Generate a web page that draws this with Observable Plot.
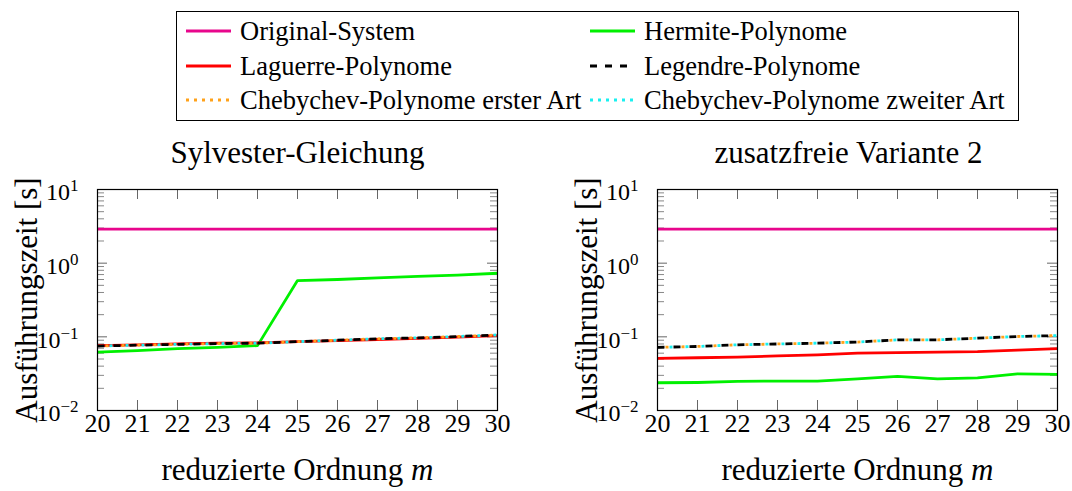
<!DOCTYPE html>
<html>
<head>
<meta charset="utf-8">
<script src="https://cdn.jsdelivr.net/npm/d3@7"></script>
<script src="https://cdn.jsdelivr.net/npm/@observablehq/plot@0.6"></script>
<style>
  body { margin: 0; background: #fff; }
  #root { position: relative; width: 1072px; height: 491px; font-family: "Liberation Serif", "Times New Roman", serif; color: #000; }
  .legend { position: absolute; left: 176px; top: 11px; width: 843px; height: 110px; border: 1px solid #000; box-sizing: border-box; }
  .item { position: absolute; height: 30px; display: flex; align-items: center; font-size: 26.5px; white-space: nowrap; }
  .item svg { margin-right: 9px; }
</style>
</head>
<body>
<div id="root"></div>
<script>
// reduced order m
const orders = [20, 21, 22, 23, 24, 25, 26, 27, 28, 29, 30];

// execution times [s], Sylvester equation
const sylvOriginal = [2.9, 2.9, 2.9, 2.9, 2.9, 2.9, 2.9, 2.9, 2.9, 2.9, 2.9];
const sylvHermite  = [0.062, 0.065, 0.069, 0.072, 0.076, 0.58, 0.60, 0.63, 0.66, 0.69, 0.73];
const sylvLaguerre = [0.076, 0.078, 0.080, 0.082, 0.083, 0.086, 0.089, 0.092, 0.095, 0.099, 0.104];
const sylvLegendre = [0.075, 0.077, 0.079, 0.081, 0.082, 0.086, 0.090, 0.094, 0.097, 0.101, 0.106];
const sylvCheb1    = [0.075, 0.077, 0.079, 0.081, 0.082, 0.086, 0.090, 0.094, 0.097, 0.101, 0.106];
const sylvCheb2    = [0.075, 0.077, 0.079, 0.081, 0.082, 0.086, 0.090, 0.094, 0.097, 0.101, 0.106];

// execution times [s], variant 2 without additional terms
const varOriginal = [2.9, 2.9, 2.9, 2.9, 2.9, 2.9, 2.9, 2.9, 2.9, 2.9, 2.9];
const varHermite  = [0.0238, 0.024, 0.0248, 0.0251, 0.0251, 0.0269, 0.029, 0.0269, 0.0277, 0.0315, 0.031];
const varLaguerre = [0.051, 0.052, 0.053, 0.055, 0.057, 0.060, 0.061, 0.062, 0.063, 0.066, 0.069];
const varLegendre = [0.072, 0.074, 0.078, 0.080, 0.082, 0.085, 0.091, 0.091, 0.096, 0.101, 0.104];
const varCheb1    = [0.072, 0.074, 0.078, 0.080, 0.082, 0.085, 0.091, 0.091, 0.096, 0.101, 0.104];
const varCheb2    = [0.072, 0.074, 0.078, 0.080, 0.082, 0.085, 0.091, 0.091, 0.096, 0.101, 0.104];

// series names and line styles (drawing order)
const seriesNames = [
  "Original-System", "Hermite-Polynome", "Laguerre-Polynome",
  "Legendre-Polynome", "Chebychev-Polynome erster Art", "Chebychev-Polynome zweiter Art"
];
const seriesColors = ["#e8068c", "#00f000", "#ff0000", "#000000", "#ffa21a", "#19f0f0"];
// dash patterns of the legend samples
const legendDash = [null, null, null, "7,8", "3,5", "3,5"];
// dash patterns in the plots, staggered so coinciding curves stay visible
const lineDash = [null, null, null, "7,9", "3,13", "3,13"];
const lineDashOffset = [0, 0, 0, 0, -8, -12];

// axis ticks
const decades = [0.01, 0.1, 1, 10];
const minorFactors = [2, 3, 4, 5, 6, 7, 8, 9];
const minorTicks = decades.slice(0, 3).flatMap(d => minorFactors.map(f => d * f));

const xTitle = "reduzierte Ordnung m";
const yTitle = "Ausführungszeit [s]";

const panels = [
  { title: "Sylvester-Gleichung", titleShift: 0, values: [sylvOriginal, sylvHermite, sylvLaguerre, sylvLegendre, sylvCheb1, sylvCheb2], left: 0, marginLeft: 97, marginRight: 39 },
  { title: "zusatzfreie Variante 2", titleShift: -9, values: [varOriginal, varHermite, varLaguerre, varLegendre, varCheb1, varCheb2], left: 536, marginLeft: 121, marginRight: 15 }
];

const W = 536, H = 361, MT = 59, MB = 81;
const root = document.getElementById("root");
const NS = "http://www.w3.org/2000/svg";

// legend
const legend = document.createElement("div");
legend.className = "legend";
const rowTops = [4, 39, 73];
const colLefts = [9, 413];
seriesNames.forEach((name, i) => {
  const item = document.createElement("div");
  item.className = "item";
  item.style.left = colLefts[i % 2] + "px";
  item.style.top = rowTops[Math.floor(i / 2)] + "px";
  const s = document.createElementNS(NS, "svg");
  s.setAttribute("width", 45); s.setAttribute("height", 8);
  const l = document.createElementNS(NS, "line");
  l.setAttribute("x1", 0); l.setAttribute("x2", 45); l.setAttribute("y1", 4); l.setAttribute("y2", 4);
  l.setAttribute("stroke", seriesColors[i]); l.setAttribute("stroke-width", 3);
  if (legendDash[i]) l.setAttribute("stroke-dasharray", legendDash[i]);
  s.appendChild(l);
  item.appendChild(s);
  item.appendChild(document.createTextNode(name));
  legend.appendChild(item);
});
root.appendChild(legend);

// typeset exponents of the log ticks and the italic order symbol
function typeset(svg) {
  svg.querySelectorAll('g[aria-label="y-axis tick label"] text').forEach(t => {
    const [base, exp] = t.textContent.split("^");
    t.textContent = base;
    const sup = document.createElementNS(NS, "tspan");
    sup.setAttribute("dy", "-9");
    sup.setAttribute("font-size", "17");
    sup.textContent = exp.replace("-", "\u2212");
    t.appendChild(sup);
  });
  svg.querySelectorAll("text").forEach(t => {
    if (t.textContent === xTitle) {
      t.textContent = "reduzierte Ordnung ";
      const m = document.createElementNS(NS, "tspan");
      m.setAttribute("font-style", "italic");
      m.textContent = "m";
      t.appendChild(m);
    }
  });
}

panels.forEach(p => {
  const PW = W - p.marginLeft - p.marginRight;
  const PH = H - MT - MB;
  const rows = p.values.map((vals, i) => orders.map((m, j) => ({ m, t: vals[j], series: seriesNames[i] })));
  const plot = Plot.plot({
    width: W,
    height: H,
    marginTop: MT,
    marginBottom: MB,
    marginLeft: p.marginLeft,
    marginRight: p.marginRight,
    style: { fontFamily: "Liberation Serif, Times New Roman, serif", background: "transparent", overflow: "visible" },
    x: { domain: [20, 30] },
    y: { type: "log", domain: [0.01, 10] },
    marks: [
      // inward ticks on all four sides
      Plot.tickX(orders, { x: d => d, stroke: "#666", strokeWidth: 1, insetTop: PH - 10 }),
      Plot.tickX(orders, { x: d => d, stroke: "#666", strokeWidth: 1, insetBottom: PH - 10 }),
      Plot.tickY(decades, { y: d => d, stroke: "#666", strokeWidth: 1, insetRight: PW - 10 }),
      Plot.tickY(decades, { y: d => d, stroke: "#666", strokeWidth: 1, insetLeft: PW - 10 }),
      Plot.tickY(minorTicks, { y: d => d, stroke: "#888", strokeWidth: 1, insetRight: PW - 7 }),
      Plot.tickY(minorTicks, { y: d => d, stroke: "#888", strokeWidth: 1, insetLeft: PW - 7 }),
      ...rows.map((data, i) => Plot.line(data, {
        x: "m", y: "t",
        stroke: seriesColors[i],
        strokeWidth: 2.8,
        strokeDasharray: lineDash[i],
        strokeDashoffset: lineDashOffset[i],
        strokeLinejoin: "round",
        strokeLinecap: "butt"
      })),
      Plot.frame({ stroke: "#000", strokeWidth: 1.2 }),
      Plot.axisX({ ticks: orders, tickSize: 0, tickPadding: 3.5, fontSize: 26, tickFormat: d => String(d), label: null }),
      Plot.axisY({ ticks: decades, tickSize: 0, tickPadding: 19, fontSize: 24, dy: 3,
        tickFormat: d => "10^" + Math.round(Math.log10(d)), label: null }),
      Plot.text([p.title], { frameAnchor: "top", dx: p.titleShift, dy: -27, lineAnchor: "bottom", fontSize: 31 }),
      Plot.text([xTitle], { frameAnchor: "bottom", dy: 69, lineAnchor: "bottom", fontSize: 31 }),
      Plot.text([yTitle], { frameAnchor: "left", dx: -70, rotate: -90, textAnchor: "middle", lineAnchor: "middle", fontSize: 31 })
    ]
  });
  typeset(plot);
  plot.style.position = "absolute";
  plot.style.left = p.left + "px";
  plot.style.top = "130px";
  root.appendChild(plot);
});
</script>
</body>
</html>
